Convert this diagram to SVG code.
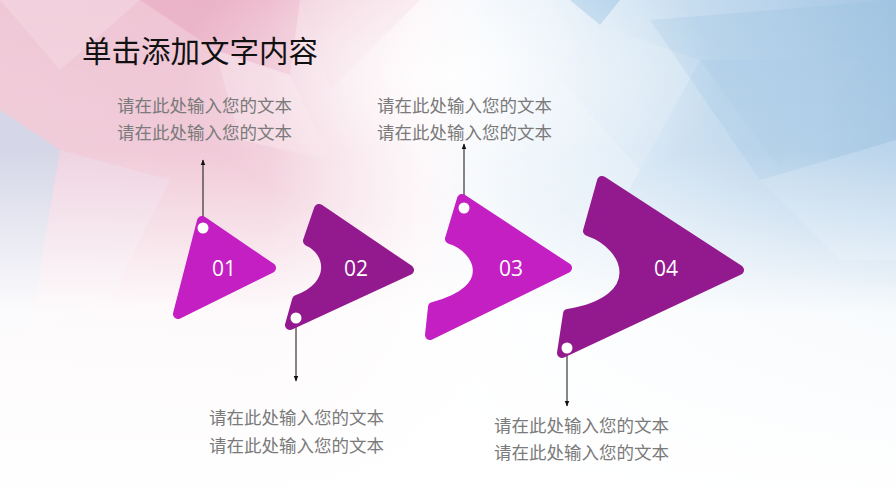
<svg xmlns="http://www.w3.org/2000/svg" width="896" height="504" viewBox="0 0 896 504">
<defs>
<linearGradient id="bgH" x1="0" y1="0" x2="1" y2="0">
<stop offset="0" stop-color="#efc8d6"/>
<stop offset="0.3" stop-color="#efc3d3"/>
<stop offset="0.47" stop-color="#fbf1f5"/>
<stop offset="0.53" stop-color="#f1f6fb"/>
<stop offset="0.72" stop-color="#cfe2f2"/>
<stop offset="1" stop-color="#a3c5e3"/>
</linearGradient>
<linearGradient id="fade" x1="0" y1="0" x2="0" y2="1">
<stop offset="0" stop-color="#fff" stop-opacity="0"/>
<stop offset="0.3" stop-color="#fff" stop-opacity="0.1"/>
<stop offset="0.62" stop-color="#fff" stop-opacity="0.92"/>
<stop offset="1" stop-color="#fff" stop-opacity="1"/>
</linearGradient>
<radialGradient id="centerGlow" cx="0.5" cy="0.15" r="0.3">
<stop offset="0" stop-color="#fff" stop-opacity="0.9"/>
<stop offset="1" stop-color="#fff" stop-opacity="0"/>
</radialGradient>
<marker id="arr" viewBox="0 0 10 10" refX="9" refY="5" markerWidth="6" markerHeight="6" orient="auto-start-reverse">
<path d="M0,1 L10,5 L0,9 Z" fill="#111"/>
</marker>
<style>
.s1{fill:#c41fc2;stroke:#c41fc2;stroke-width:10;stroke-linejoin:round;}
.s2{fill:#93198f;stroke:#93198f;stroke-width:10;stroke-linejoin:round;}
.num{font-family:"Open Sans","Noto Sans",sans-serif;font-size:21px;fill:#ffffff;text-anchor:middle;}
.txt{font-family:"Noto Sans CJK SC","Noto Sans",sans-serif;font-size:17.5px;fill:#7a7a7a;}
.title{font-family:"Noto Sans CJK SC","Noto Sans",sans-serif;font-size:29.5px;fill:#111;}
.dot{fill:#fff;}
.conn{stroke:#111;stroke-width:1;fill:none;}
</style>
</defs>

<g id="background">
<rect x="0" y="0" width="896" height="504" fill="url(#bgH)"/>
<polygon points="140,0 300,0 290,75 215,50" fill="#e59bb7" opacity="0.4"/>
<polygon points="0,0 140,0 60,70" fill="#f4d6e1" opacity="0.6"/>
<polygon points="215,50 290,75 330,160 240,140" fill="#f6dbe5" opacity="0.5"/>
<polygon points="0,110 60,150 30,330 0,340" fill="#bcd8ee" opacity="0.6"/>
<polygon points="60,150 170,180 110,300 30,330" fill="#eadcec" opacity="0.4"/>
<polygon points="300,0 420,0 330,90" fill="#f0c9d8" opacity="0.5"/>
<polygon points="570,0 620,0 600,25" fill="#8fbde1" opacity="0.6"/>
<polygon points="600,25 700,60 640,170 555,70" fill="#d8e8f5" opacity="0.6"/>
<polygon points="650,20 896,0 896,140 760,180" fill="#9dc2e2" opacity="0.3"/>
<polygon points="700,60 860,60 780,170" fill="#a9cbe7" opacity="0.4"/>
<polygon points="760,180 896,140 896,260 840,260" fill="#c4dcef" opacity="0.5"/>
<polygon points="560,80 640,170 600,240 520,160" fill="#e2eef8" opacity="0.6"/>
<rect x="0" y="0" width="896" height="504" fill="url(#centerGlow)"/>
<rect x="0" y="0" width="896" height="504" fill="url(#fade)"/>
</g>

<g id="title">
<text class="title" x="82" y="62">单击添加文字内容</text>
</g>

<g id="connectors">
<line class="conn" x1="203" y1="228" x2="203" y2="160" marker-end="url(#arr)"/>
<line class="conn" x1="296" y1="318" x2="296" y2="381" marker-end="url(#arr)"/>
<line class="conn" x1="464" y1="208" x2="464" y2="144" marker-end="url(#arr)"/>
<line class="conn" x1="567" y1="348" x2="567" y2="406" marker-end="url(#arr)"/>
</g>

<g id="node-01">
<path class="s1" d="M202,221 L178,314 L271,268 Z"/>
<circle class="dot" cx="203" cy="228" r="5.5"/>
<text class="num" x="224" y="276">01</text>
</g>

<g id="node-02">
<path class="s2" d="M319,209 L308,241 C330,250 338,285 297,300 L290,325 L409,270 Z"/>
<circle class="dot" cx="296" cy="318" r="5.5"/>
<text class="num" x="356" y="276">02</text>
</g>

<g id="node-03">
<path class="s1" d="M462,199 L450,239 C480,248 500,290 433,307 L430,335 L567,268 Z"/>
<circle class="dot" cx="464" cy="208" r="5.5"/>
<text class="num" x="511" y="276">03</text>
</g>

<g id="node-04">
<path class="s2" d="M602,181 L588,231 C630,245 650,300 568,314 L562,353 L739,270 Z"/>
<circle class="dot" cx="567" cy="348" r="5.5"/>
<text class="num" x="666" y="276">04</text>
</g>

<g id="text-01">
<text class="txt" x="117" y="112">请在此处输入您的文本</text>
<text class="txt" x="117" y="139">请在此处输入您的文本</text>
</g>
<g id="text-02">
<text class="txt" x="209" y="424">请在此处输入您的文本</text>
<text class="txt" x="209" y="452">请在此处输入您的文本</text>
</g>
<g id="text-03">
<text class="txt" x="377" y="112">请在此处输入您的文本</text>
<text class="txt" x="377" y="139">请在此处输入您的文本</text>
</g>
<g id="text-04">
<text class="txt" x="494" y="432">请在此处输入您的文本</text>
<text class="txt" x="494" y="459">请在此处输入您的文本</text>
</g>
</svg>
